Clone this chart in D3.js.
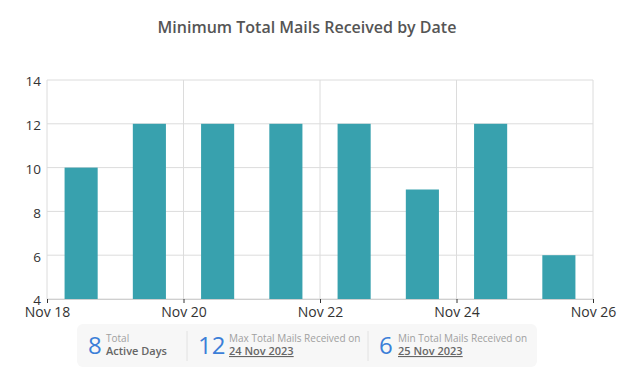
<!DOCTYPE html>
<html>
<head>
<meta charset="utf-8">
<script src="https://cdn.jsdelivr.net/npm/d3@7"></script>
<style>
  body { margin: 0; background: #fff; font-family: "Open Sans", sans-serif; }
  svg text { font-family: "Open Sans", sans-serif; }
</style>
</head>
<body>
<svg id="chart" width="633" height="371"></svg>
<script>
// data
const dates = ['2023-11-18', '2023-11-19', '2023-11-20', '2023-11-21', '2023-11-22', '2023-11-23', '2023-11-24', '2023-11-25'];
const mails = [10, 12, 12, 12, 12, 9, 12, 6];
const yTicks = [4, 6, 8, 10, 12, 14];
const xTickDates = ['2023-11-18', '2023-11-20', '2023-11-22', '2023-11-24', '2023-11-26'];
const summaryNums = ['8', '12', '6'];
const summaryTop = ['Total', 'Max Total Mails Received on', 'Min Total Mails Received on'];
const summaryBottom = ['Active Days', '24 Nov 2023', '25 Nov 2023'];

const parse = d3.timeParse('%Y-%m-%d');

const margin = {top: 80, right: 40, bottom: 72, left: 47};
const width = 633, height = 371;

const svg = d3.select('#chart');

const x = d3.scaleTime()
    .domain([parse('2023-11-18'), parse('2023-11-26')])
    .range([margin.left, width - margin.right]);

const y = d3.scaleLinear()
    .domain([4, 14])
    .range([height - margin.bottom, margin.top]);

// title
svg.append('text')
    .attr('x', 307)
    .attr('y', 33)
    .attr('text-anchor', 'middle')
    .attr('fill', '#555')
    .style('font-size', '16px')
    .style('font-weight', 600)
    .text('Minimum Total Mails Received by Date');

// grid
const grid = svg.append('g');
grid.selectAll('.hgrid')
    .data(yTicks)
    .enter().append('line')
    .attr('x1', x.range()[0]).attr('x2', x.range()[1])
    .attr('y1', d => y(d)).attr('y2', d => y(d))
    .attr('stroke', '#dcdcdc');

grid.selectAll('.vgrid')
    .data(xTickDates.map(parse))
    .enter().append('line')
    .attr('x1', d => x(d)).attr('x2', d => x(d))
    .attr('y1', y(4)).attr('y2', y(14))
    .attr('stroke', '#dcdcdc');

// bars (centered on noon of each day)
const dayW = x(parse('2023-11-19')) - x(parse('2023-11-18'));
const barW = dayW * 0.485;
svg.append('g').selectAll('rect')
    .data(dates)
    .enter().append('rect')
    .attr('x', (d, i) => x(d3.timeHour.offset(parse(d), 12)) - barW / 2)
    .attr('y', (d, i) => y(mails[i]))
    .attr('width', barW)
    .attr('height', (d, i) => y(4) - y(mails[i]))
    .attr('fill', '#38a1ae');

// y axis
const yAxis = svg.append('g')
    .attr('transform', `translate(${margin.left},1.5)`)
    .call(d3.axisLeft(y).tickValues(yTicks).tickSize(0).tickPadding(6));
yAxis.select('.domain').remove();
yAxis.selectAll('text')
    .attr('fill', '#333')
    .style('font-size', '13.5px');

// x axis
const xAxis = svg.append('g')
    .attr('transform', `translate(0,${y(4)})`)
    .call(d3.axisBottom(x)
        .tickValues(xTickDates.map(parse))
        .tickFormat(d3.timeFormat('Nov %d'))
        .tickSize(4)
        .tickPadding(4));
xAxis.select('.domain').attr('stroke', '#cfcfcf');
xAxis.selectAll('.tick line').attr('stroke', '#333');
xAxis.selectAll('text')
    .attr('fill', '#333')
    .style('font-size', '14px');

// summary panel
const panel = svg.append('g');
panel.append('rect')
    .attr('x', 77).attr('y', 324)
    .attr('width', 460).attr('height', 43)
    .attr('rx', 6)
    .attr('fill', '#f7f7f7');

const blockX = [88, 198, 379];
const labelX = [106, 229, 398];
[187, 368].forEach(sx => {
    panel.append('line')
        .attr('x1', sx).attr('x2', sx)
        .attr('y1', 331).attr('y2', 361)
        .attr('stroke', '#e2e2e2');
});

summaryNums.forEach((n, i) => {
    panel.append('text')
        .attr('x', blockX[i]).attr('y', 354)
        .attr('fill', '#3c7fd8')
        .style('font-size', '24px')
        .style('font-weight', 400)
        .text(n);
    panel.append('text')
        .attr('x', labelX[i]).attr('y', 342)
        .attr('fill', '#a0a0a0')
        .style('font-size', '10px')
        .text(summaryTop[i]);
    panel.append('text')
        .attr('x', labelX[i]).attr('y', 355)
        .attr('fill', '#666')
        .style('font-size', '11px')
        .style('font-weight', 600)
        .style('text-decoration', i > 0 ? 'underline' : 'none')
        .text(summaryBottom[i]);
});
</script>
</body>
</html>
